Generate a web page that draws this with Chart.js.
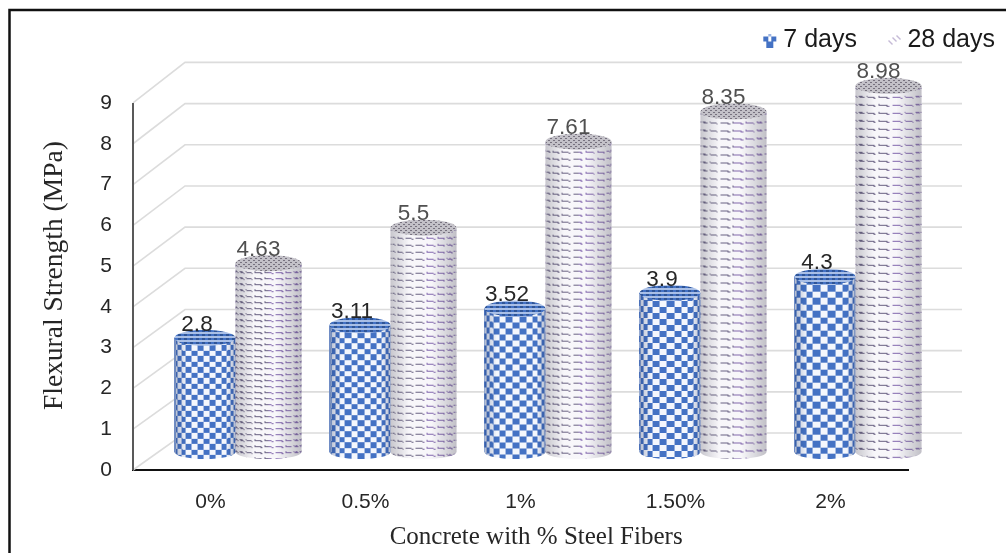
<!DOCTYPE html>
<html>
<head>
<meta charset="utf-8">
<script src="https://cdn.jsdelivr.net/npm/chart.js@4"></script>
<style>
  html, body { margin: 0; background: #fff; }
  canvas { display: block; }
</style>
</head>
<body>
<canvas id="chart" width="1006" height="553"></canvas>
<script>
const categories = ["0%", "0.5%", "1%", "1.50%", "2%"];
const days7 = [2.8, 3.11, 3.52, 3.9, 4.3];
const days28 = [4.63, 5.5, 7.61, 8.35, 8.98];
const yTicks = [0, 1, 2, 3, 4, 5, 6, 7, 8, 9];

const sans = "'Liberation Sans', Arial, sans-serif";
const serif = "'Liberation Serif', serif";

// fake 3D: how far the bars and back wall sit behind the front axes
const barShift = { x: 25, y: -18 };
const backX = 185;
const wallRight = 962;

function makeCanvas(w, h) {
  const c = document.createElement("canvas");
  c.width = w;
  c.height = h;
  return c;
}

// texture wrapped round a cylinder, cells get narrow towards the edges
function checkerTile(w, rowH) {
  const period = Math.max(2, Math.round(rowH * 2));
  const c = makeCanvas(w, period);
  const g = c.getContext("2d");
  const r = w / 2;
  const du = (rowH * 1.2) / r;
  for (let x = 0; x < w; x++) {
    const u = Math.asin(Math.max(-1, Math.min(1, (x + 0.5 - r) / r)));
    const col = Math.floor((u + 4) / du);
    for (let y = 0; y < period; y++) {
      const yy = y - 1.5 * Math.cos(u) + 100 * period;
      const row = Math.floor(yy / (period / 2));
      g.fillStyle = (row + col) % 2 ? "#4472c4" : "#f4f7fd";
      g.fillRect(x, y, 1, 1);
    }
  }
  return c;
}

function dashTile(w, rowH) {
  const period = Math.max(4, Math.round(rowH));
  const c = makeCanvas(w, period);
  const g = c.getContext("2d");
  g.fillStyle = "#fbfafd";
  g.fillRect(0, 0, w, period);
  const r = w / 2;
  const du = (rowH * 1.7) / r;
  for (let x = 0; x < w; x++) {
    const u = Math.asin(Math.max(-1, Math.min(1, (x + 0.5 - r) / r)));
    const cu = (u + 4) / du;
    const col = Math.floor(cu);
    const frac = cu - col;
    if (frac > 0.78) continue;
    for (let y = 0; y < period; y++) {
      const yy = (y - 1.5 * Math.cos(u) + 100 * period) % period;
      const line = 1 + frac * 2 + Math.sin(frac * 9) * 0.3;
      if (Math.abs(yy - line) < 0.6) {
        g.fillStyle = x < r ? "#6a6284" : "#8468b0";
        g.fillRect(x, y, 1, 1);
      }
    }
  }
  return c;
}

function capTile7() {
  const c = makeCanvas(6, 4);
  const g = c.getContext("2d");
  g.fillStyle = "#2f5597";
  g.fillRect(0, 0, 6, 2);
  g.fillStyle = "#a9bfe6";
  g.fillRect(0, 2, 6, 2);
  g.fillStyle = "#4472c4";
  g.fillRect(0, 0, 3, 2);
  return c;
}

function capTile28() {
  const c = makeCanvas(5, 4);
  const g = c.getContext("2d");
  g.fillStyle = "#c3c1c8";
  g.fillRect(0, 0, 5, 4);
  g.fillStyle = "#77727f";
  g.fillRect(0, 0, 2, 1);
  g.fillRect(3, 2, 2, 1);
  return c;
}

// legend marks sit in the right half so they end up close to the text
function legendMark7() {
  const c = makeCanvas(26, 14);
  const g = c.getContext("2d");
  g.fillStyle = "#4472c4";
  g.fillRect(12, 3, 5, 5);
  g.fillRect(20, 3, 5, 5);
  g.fillRect(15, 8, 7, 6);
  g.fillStyle = "#9db5e2";
  g.fillRect(17, 0, 3, 3);
  return c;
}

function legendMark28() {
  const c = makeCanvas(26, 14);
  const g = c.getContext("2d");
  g.strokeStyle = "#8a74ad";
  g.lineWidth = 1;
  for (const [x, y] of [[13, 7], [17, 4], [21, 2]]) {
    g.beginPath();
    g.moveTo(x, y);
    g.lineTo(x + 4, y + 4);
    g.stroke();
  }
  return c;
}

const frame = {
  id: "frame",
  beforeDraw(chart) {
    const { ctx, width, height } = chart;
    ctx.save();
    ctx.fillStyle = "#fff";
    ctx.fillRect(0, 0, width, height);
    ctx.strokeStyle = "#111";
    ctx.lineWidth = 2.5;
    ctx.beginPath();
    ctx.moveTo(9.5, height);
    ctx.lineTo(9.5, 10);
    ctx.lineTo(width, 10);
    ctx.stroke();
    ctx.restore();
  },
};

const walls = {
  id: "walls",
  beforeDatasetsDraw(chart) {
    const { ctx, scales } = chart;
    const front = scales.y;
    const back = scales.yBack;
    const left = scales.x.left;
    ctx.save();
    ctx.strokeStyle = "#dcdcdc";
    ctx.lineWidth = 1.6;
    for (const v of yTicks) {
      ctx.beginPath();
      ctx.moveTo(left, front.getPixelForValue(v));
      ctx.lineTo(backX, back.getPixelForValue(v));
      ctx.lineTo(wallRight, back.getPixelForValue(v));
      ctx.stroke();
    }
    ctx.strokeStyle = "#595959";
    ctx.lineWidth = 2;
    ctx.beginPath();
    ctx.moveTo(left, front.getPixelForValue(9));
    ctx.lineTo(left, front.getPixelForValue(0));
    ctx.stroke();
    ctx.restore();
  },
};

// the bars come from the library, this wraps each one into a cylinder
const cylinders = {
  id: "cylinders",
  beforeDatasetsDraw(chart) {
    chart.ctx.save();
    chart.ctx.translate(barShift.x, barShift.y);
  },
  afterDatasetsDraw(chart) {
    const { ctx } = chart;
    const caps = [
      ctx.createPattern(capTile7(), "repeat"),
      ctx.createPattern(capTile28(), "repeat"),
    ];
    chart.data.datasets.forEach((ds, di) => {
      chart.getDatasetMeta(di).data.forEach((bar, i) => {
        const w = bar.width;
        const left = bar.x - w / 2;
        const right = bar.x + w / 2;
        const h = bar.base - bar.y;
        const rowH = di === 0 ? 3 + h * 0.02 : 4.5 + h * 0.0095;
        const tile = di === 0 ? checkerTile(Math.round(w), rowH) : dashTile(Math.round(w), rowH);
        const pat = ctx.createPattern(tile, "repeat");
        // pattern space already follows the translate from beforeDatasetsDraw
        pat.setTransform(new DOMMatrix().translate(left, bar.y));

        ctx.save();
        ctx.filter = "blur(0.5px)";
        ctx.beginPath();
        ctx.moveTo(left, bar.y);
        ctx.lineTo(left, bar.base);
        ctx.ellipse(bar.x, bar.base, w / 2, 7, 0, Math.PI, 0, true);
        ctx.lineTo(right, bar.y);
        ctx.closePath();
        ctx.fillStyle = pat;
        ctx.fill();

        const shade = ctx.createLinearGradient(left, 0, right, 0);
        if (di === 0) {
          shade.addColorStop(0, "rgba(30,50,100,0.30)");
          shade.addColorStop(0.2, "rgba(30,50,100,0)");
          shade.addColorStop(0.85, "rgba(30,50,100,0)");
          shade.addColorStop(1, "rgba(30,50,100,0.30)");
        } else {
          shade.addColorStop(0, "rgba(80,80,95,0.30)");
          shade.addColorStop(0.28, "rgba(80,80,95,0.02)");
          shade.addColorStop(0.62, "rgba(80,80,95,0.02)");
          shade.addColorStop(1, "rgba(80,80,95,0.34)");
        }
        ctx.fillStyle = shade;
        ctx.fill();

        ctx.beginPath();
        ctx.ellipse(bar.x, bar.y, w / 2, 8, 0, 0, Math.PI * 2);
        ctx.fillStyle = caps[di];
        ctx.fill();
        ctx.restore();

        ctx.fillStyle = di === 0 ? "#262626" : "#505050";
        ctx.font = "22.5px " + sans;
        ctx.textAlign = "center";
        ctx.textBaseline = "middle";
        ctx.fillText(String(ds.data[i]), bar.x - (di === 0 ? 8 : 10), bar.y - 13.5);
      });
    });
    ctx.restore();
  },
};

new Chart(document.getElementById("chart"), {
  type: "bar",
  data: {
    labels: categories,
    datasets: [
      {
        label: "7 days",
        data: days7,
        backgroundColor: "#4472c4",
        pointStyle: legendMark7(),
        barThickness: 61,
        clip: false,
      },
      {
        label: "28 days",
        data: days28,
        backgroundColor: "#f4f2f8",
        pointStyle: legendMark28(),
        barThickness: 66,
        clip: false,
      },
    ],
  },
  plugins: [frame, walls, cylinders],
  options: {
    responsive: false,
    animation: false,
    layout: { padding: { top: 3, left: 0, right: -14, bottom: 0 } },
    plugins: {
      tooltip: { enabled: false },
      legend: {
        position: "top",
        align: "end",
        weight: 2000,
        labels: {
          usePointStyle: true,
          pointStyleWidth: 13,
          padding: 25,
          color: "#1a1a1a",
          font: { family: sans, size: 25 },
        },
      },
      // empty, only pushes the plot area down below the legend
      subtitle: {
        display: true,
        text: "",
        font: { size: 1 },
        padding: { top: 0, bottom: 17 },
      },
    },
    scales: {
      x: {
        grid: { display: false },
        border: { display: true, color: "#111", width: 2 },
        ticks: { color: "#262626", padding: 12, font: { family: sans, size: 21 } },
        title: {
          display: true,
          // leading spaces push the centred title right of the axis middle
          text: "     Concrete with % Steel Fibers",
          color: "#262626",
          font: { family: serif, size: 25 },
          padding: { top: 0, bottom: 1 },
        },
        afterFit(scale) { scale.height = 83; },
      },
      y: {
        min: 0,
        max: 9.534,
        grid: { display: false },
        border: { display: false },
        ticks: {
          stepSize: 1,
          includeBounds: false,
          padding: 13,
          color: "#262626",
          font: { family: sans, size: 21 },
        },
        title: {
          display: true,
          text: "Flexural Strength (MPa)",
          color: "#262626",
          font: { family: serif, size: 27.5 },
          padding: { top: 38, bottom: 0 },
        },
        afterFit(scale) { scale.width = 133; },
      },
      // back wall of the box, same values but further up the page
      yBack: {
        position: "right",
        min: -0.898,
        max: 8.544,
        grid: { display: false },
        border: { display: false },
        ticks: { display: false },
        afterFit(scale) { scale.width = 112; },
      },
    },
  },
});
</script>
</body>
</html>
